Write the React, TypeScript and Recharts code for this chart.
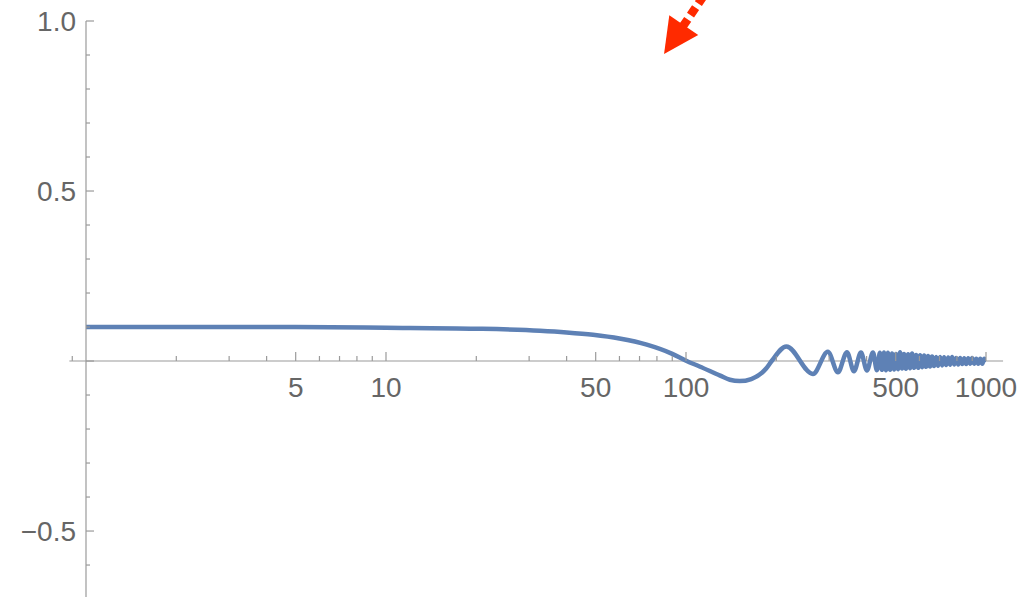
import React from 'react';
import { LineChart, Line, XAxis, YAxis, ReferenceLine } from 'recharts';

// curve samples: long plateau, first dip past 100, then ever faster ripples
const smoothX = [1, 3, 5, 10, 20, 32.6, 40, 49, 60, 74, 90, 100.5, 111, 130, 140, 151, 165, 185, 193, 216, 265, 297, 321, 344, 363, 383, 401, 420, 433];
const smoothY = [0.1, 0.1, 0.1, 0.098, 0.095, 0.089, 0.084, 0.077, 0.066, 0.048, 0.021, 0, -0.016, -0.043, -0.055, -0.059, -0.053, -0.022, 0, 0.043, -0.038, 0.027, -0.033, 0.026, -0.03, 0.025, -0.028, 0.025, -0.027];

// dense tail, one sample per visible wiggle
const bandX = [
  443, 450, 457, 464, 471, 479, 486, 494, 501, 509, 517, 525, 533, 541, 550, 558, 567, 576,
  585, 594, 603, 612, 622, 631, 641, 651, 661, 671, 682, 692, 703, 714, 725, 736, 748, 759,
  771, 783, 795, 808, 820, 833, 846, 859, 872, 886, 899, 913, 928, 942, 957, 972, 987, 1000,
];
const bandY = [
  0.024, -0.026, 0.025, -0.027, 0.024, -0.026, 0.022, -0.025, 0.021, -0.024, 0.026, -0.022, 0.021, -0.023, 0.02, -0.021, 0.022, -0.02,
  0.018, -0.02, 0.017, -0.018, 0.016, -0.017, 0.015, -0.016, 0.013, -0.015, 0.012, -0.014, 0.012, -0.013, 0.011, -0.012, 0.01, -0.011,
  0.012, -0.01, 0.009, -0.01, 0.009, -0.009, 0.008, -0.009, 0.008, -0.008, 0.009, -0.008, 0.007, -0.008, 0.007, -0.008, 0.007, -0.003,
];

const X_MAJOR = [5, 10, 50, 100, 500, 1000];
const X_MINOR = [0.9, 2, 3, 4, 6, 7, 8, 9, 20, 30, 40, 60, 70, 80, 90, 200, 300, 400, 600, 700, 800, 900];
const Y_MAJOR = [-0.5, 0, 0.5, 1];
const Y_MINOR = [-0.6, -0.4, -0.3, -0.2, -0.1, 0.1, 0.2, 0.3, 0.4, 0.6, 0.7, 0.8, 0.9];
const Y_LABELS: Record<string, string> = { '1': '1.0', '0.5': '0.5', '-0.5': '\u22120.5' };

// red dotted pointer, in data units (tail runs off the top edge)
const ARROW_FROM = { x: 119.3, y: 1.097 };
const ARROW_TO = { x: 84.5, y: 0.903 };

const data = [
  ...smoothX.map((x, i) => ({ x, y: smoothY[i] })),
  ...bandX.map((x, i) => ({ x, y: bandY[i] })),
];

const W = 1031;
const H = 597;
const X_AXIS_H = 30; // axis strip sits below the visible area
const TOP = 21;
const Y_MIN = -0.694;
const Y_MAX = 1;
const ZERO_Y = TOP + ((H - TOP) * Y_MAX) / (Y_MAX - Y_MIN);

const AXIS = '#9a9a9a';
const LABEL = '#666666';
const BLUE = '#5e81b5';
const RED = '#ff2a00';
const FONT = '"Liberation Sans", Arial, sans-serif';
const FONT_SIZE = 28;

// x ticks are drawn on the y = 0 line, pointing up
const XTick = (props: any) => {
  const { x, payload } = props;
  const v = payload.value;
  const major = X_MAJOR.includes(v);
  return (
    <g>
      <line x1={x} x2={x} y1={ZERO_Y} y2={ZERO_Y - (major ? 9 : 5)} stroke={AXIS} strokeWidth={1.2} />
      {major && (
        <text x={x} y={ZERO_Y + 36} textAnchor="middle" fontSize={FONT_SIZE} fill={LABEL} fontFamily={FONT}>
          {v}
        </text>
      )}
    </g>
  );
};

const YTick = (props: any) => {
  const { x, y, payload } = props;
  const v = payload.value;
  const major = Y_MAJOR.includes(v);
  const label = Y_LABELS[String(v)];
  return (
    <g>
      <line x1={x} x2={x + (major ? 8 : 4)} y1={y} y2={y} stroke={AXIS} strokeWidth={1.2} />
      {label && (
        <text x={x - 10} y={y + 10} textAnchor="end" fontSize={FONT_SIZE} fill={LABEL} fontFamily={FONT}>
          {label}
        </text>
      )}
    </g>
  );
};

const ArrowShape = (p: any) => {
  const { x1, y1, x2, y2 } = p;
  const len = Math.hypot(x2 - x1, y2 - y1);
  const ux = (x2 - x1) / len;
  const uy = (y2 - y1) / len;
  const bx = x2 - ux * 35;
  const by = y2 - uy * 35;
  const nx = -uy;
  const ny = ux;
  return (
    <g>
      {/* dashes start at the head so the first one touches it */}
      <line x1={bx + ux * 2} y1={by + uy * 2} x2={x1} y2={y1} stroke={RED} strokeWidth={8.5} strokeDasharray="9 5" />
      <polygon
        points={`${x2},${y2} ${bx + nx * 17.5},${by + ny * 17.5} ${bx - nx * 17.5},${by - ny * 17.5}`}
        fill={RED}
      />
    </g>
  );
};

const App: React.FC = () => {
  const xTicks = [...X_MINOR, ...X_MAJOR].sort((a, b) => a - b);
  const yTicks = [...Y_MINOR, ...Y_MAJOR].sort((a, b) => a - b);
  return (
    <div style={{ width: W, height: H, overflow: 'hidden', background: '#fff' }}>
      <style>{'html, body { margin: 0; padding: 0; overflow: hidden; }'}</style>
      <LineChart width={W} height={H + X_AXIS_H} data={data} margin={{ top: TOP, right: 45, bottom: 0, left: 0 }}>
        <XAxis
          dataKey="x"
          type="number"
          scale="log"
          domain={[1, 1000]}
          allowDataOverflow
          ticks={xTicks}
          interval={0}
          tick={<XTick />}
          tickLine={false}
          axisLine={false}
          tickSize={0}
          tickMargin={0}
          height={X_AXIS_H}
        />
        <YAxis
          type="number"
          domain={[Y_MIN, Y_MAX]}
          allowDataOverflow
          ticks={yTicks}
          interval={0}
          width={86}
          tick={<YTick />}
          tickLine={false}
          tickSize={0}
          tickMargin={0}
          axisLine={{ stroke: AXIS, strokeWidth: 1.2 }}
        />
        <ReferenceLine
          segment={[{ x: 0.88, y: 0 }, { x: 1140, y: 0 }]}
          stroke={AXIS}
          strokeWidth={1.2}
          ifOverflow="visible"
        />
        <Line
          type="monotone"
          dataKey="y"
          stroke={BLUE}
          strokeWidth={4.5}
          strokeLinejoin="round"
          dot={false}
          isAnimationActive={false}
        />
        <ReferenceLine segment={[ARROW_FROM, ARROW_TO]} ifOverflow="visible" shape={ArrowShape} />
      </LineChart>
    </div>
  );
};

export default App;
